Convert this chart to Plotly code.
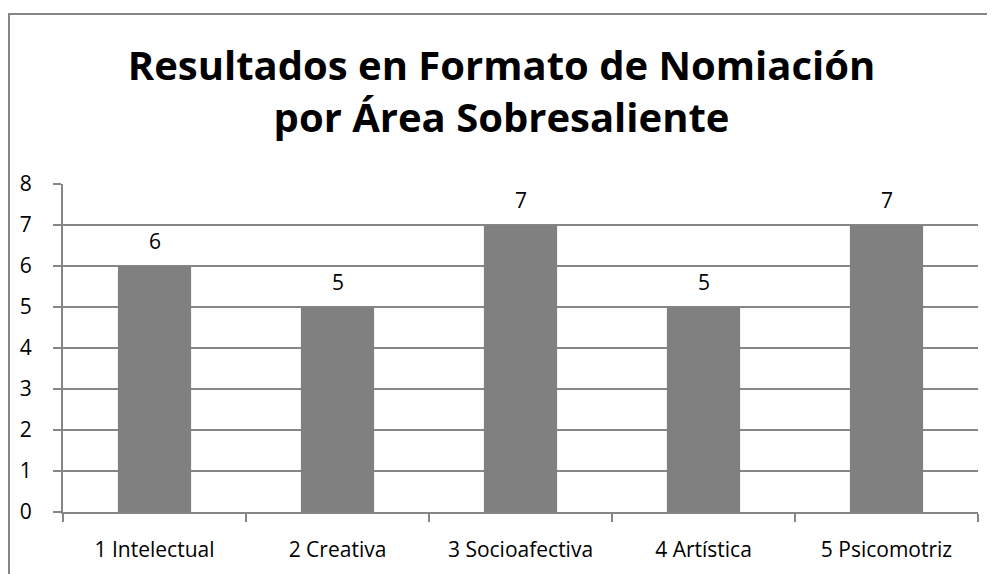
import plotly.graph_objects as go

categories = ["1 Intelectual", "2 Creativa", "3 Socioafectiva", "4 Artística", "5 Psicomotriz"]
values = [6, 5, 7, 5, 7]
y_ticks = [0, 1, 2, 3, 4, 5, 6, 7, 8]

# the page body adds an 8px offset, so the figure is made 8px smaller
W, H = 987, 566
left, right, top, bottom = 55, 17, 176, 62
plot_w = W - left - right
plot_h = H - top - bottom


def px_to_paper_x(px):
    return (px - left) / plot_w


def px_to_paper_y(py):
    return (H - bottom - py) / plot_h


fig = go.Figure(
    go.Bar(
        x=categories,
        y=values,
        marker=dict(color="#808080", line=dict(width=0)),
    )
)

# value labels above the bars
annotations = [
    dict(
        x=c,
        y=v,
        xref="x",
        yref="y",
        text=str(v),
        showarrow=False,
        yanchor="bottom",
        yshift=9,
        font=dict(family="Open Sans", size=21, color="#000000"),
    )
    for c, v in zip(categories, values)
]

fig.update_layout(
    width=W,
    height=H,
    margin=dict(l=left, r=right, t=top, b=bottom),
    paper_bgcolor="white",
    plot_bgcolor="white",
    bargap=0.6,
    showlegend=False,
    font=dict(family="Open Sans", size=21, color="#000000"),
    title=dict(
        text="<b>Resultados en Formato de Nomiación<br>por Área Sobresaliente</b>",
        x=0.5,
        xanchor="center",
        xref="container",
        yref="container",
        y=1 - 72 / H,
        yanchor="middle",
        font=dict(family="Open Sans", size=40, color="#000000"),
    ),
    annotations=annotations,
    shapes=[
        dict(
            type="rect",
            xref="paper",
            yref="paper",
            x0=px_to_paper_x(1),
            x1=px_to_paper_x(1010),
            y0=px_to_paper_y(590),
            y1=px_to_paper_y(6),
            line=dict(color="#868686", width=2),
            layer="below",
        )
    ],
)

fig.update_xaxes(
    type="category",
    showline=True,
    linecolor="#868686",
    linewidth=2,
    ticks="outside",
    tickson="boundaries",
    ticklen=8,
    tickcolor="#868686",
    tickwidth=2,
    showgrid=False,
    ticklabelstandoff=18,
    tickfont=dict(family="Open Sans", size=21),
)

fig.update_yaxes(
    range=[0, 8],
    tickvals=y_ticks,
    showline=True,
    linecolor="#868686",
    linewidth=2,
    ticks="outside",
    ticklen=8,
    tickcolor="#868686",
    tickwidth=2,
    showgrid=True,
    gridcolor="#868686",
    gridwidth=2,
    zeroline=False,
    ticklabelstandoff=17,
    tickfont=dict(family="Open Sans", size=21),
)

fig.write_html("out.html")
